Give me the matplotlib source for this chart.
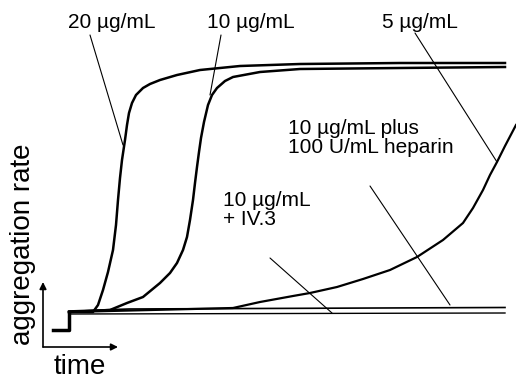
import matplotlib.pyplot as plt

plt.rcParams['font.family'] = ['Liberation Sans', 'DejaVu Sans']

# time in arbitrary units, aggregation in %
pre_t = [-16, 0, 0]
pre_a = [-7, -7, 0]

t_20 = [0, 24, 29, 34, 39, 44, 47, 49, 51, 53, 56, 58, 60, 63, 67, 74, 81, 91, 108, 131, 171, 231, 331, 436]
a_20 = [0, 0, 2.8, 8.8, 16, 24.8, 34.8, 44.8, 53.6, 60.8, 68.8, 74.8, 79.6, 83.6, 86.8, 89.6, 91.2, 92.8,
        94.8, 96.8, 98.4, 99.2, 99.6, 99.6]

t_10 = [0, 41, 58, 74, 91, 101, 108, 114, 118, 121, 124, 126, 128, 130, 132, 135, 139, 143, 148, 156, 164,
        191, 231, 331, 436]
a_10 = [0, 0.8, 3.6, 6, 11.6, 15.6, 19.6, 24.8, 30, 36.8, 44.8, 51.6, 58, 64, 69.6, 76, 82.8, 86.8, 89.6,
        92.4, 94, 96, 97.2, 97.6, 98]

t_5 = [0, 164, 191, 224, 241, 268, 294, 321, 348, 374, 394, 404, 414, 421, 428, 436, 447]
a_5 = [0, 1.6, 4, 6.4, 7.6, 10, 13.2, 16.8, 22, 28.8, 35.6, 41.6, 48.8, 54.8, 60, 66.4, 74.8]

t_hep = [0, 60, 436]
a_hep = [0.4, 1.2, 1.8]

t_iv3 = [0, 436]
a_iv3 = [-0.8, -0.4]

fig = plt.figure(figsize=(5.16, 3.79), dpi=100)
ax = fig.add_axes([0, 0, 1, 1])
ax.set_xlim(-69, 447)
ax.set_ylim(-26.8, 124.8)
ax.axis('off')

ax.plot(pre_t, pre_a, color='black', lw=2.5)
ax.plot(t_iv3, a_iv3, color='black', lw=1.0)
ax.plot(t_hep, a_hep, color='black', lw=1.2)
ax.plot(t_5, a_5, color='black', lw=1.6)
ax.plot(t_10, a_10, color='black', lw=1.8)
ax.plot(t_20, a_20, color='black', lw=1.8)

# axis arrows (figure pixels)
arrow = dict(arrowstyle='-|>', color='black', lw=1.2, mutation_scale=10, shrinkA=0, shrinkB=0)
ax.annotate('', xy=(43, 97), xytext=(43, 32), xycoords='figure pixels', textcoords='figure pixels', arrowprops=arrow)
ax.annotate('', xy=(118, 32), xytext=(43, 32), xycoords='figure pixels', textcoords='figure pixels', arrowprops=arrow)

fig.text(23, 135, 'aggregation rate', transform=None, rotation=90, fontsize=20, ha='center', va='center')
fig.text(80, 5, 'time', transform=None, fontsize=20, ha='center', va='baseline')

# labels with leader lines
lead = dict(arrowstyle='-', color='black', lw=0.8, shrinkA=0, shrinkB=0)
labels = [
    ('20 µg/mL', (112, 351), 'center', (90, 344), (123, 234)),
    ('10 µg/mL', (251, 351), 'center', (221, 344), (210, 284)),
    ('5 µg/mL', (420, 351), 'center', (415, 346), (497, 217)),
    ('10 µg/mL plus\n100 U/mL heparin', (288, 226), 'left', (370, 193), (450, 74)),
    ('10 µg/mL\n+ IV.3', (223, 154), 'left', (270, 121), (332, 66)),
]
for txt, pos, ha, p0, p1 in labels:
    fig.text(pos[0], pos[1], txt, transform=None, fontsize=15, ha=ha, va='baseline', linespacing=1.0)
    ax.annotate('', xy=p1, xytext=p0, xycoords='figure pixels', textcoords='figure pixels', arrowprops=lead)

fig.savefig('out.png', dpi=100)
